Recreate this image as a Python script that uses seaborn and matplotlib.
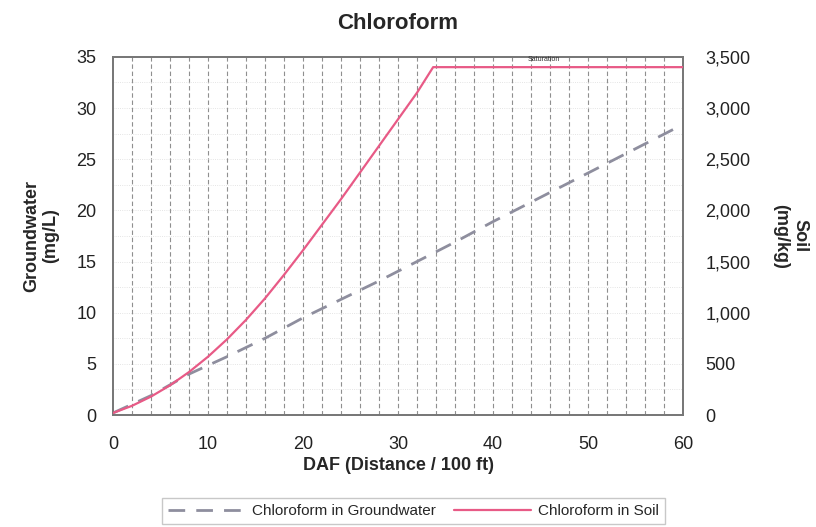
import numpy as np
import pandas as pd
import matplotlib
matplotlib.use("Agg")
import matplotlib.pyplot as plt
import seaborn as sns
from matplotlib.ticker import FuncFormatter, MultipleLocator
from matplotlib.lines import Line2D

# Values
gw_daf = [0, 4, 8, 12, 16, 20, 24, 28, 32, 36, 40, 44, 48, 52, 56, 60]
gw_conc = [0.2, 1.9, 4.0, 5.7, 7.5, 9.5, 11.3, 13.1, 15.0, 16.9, 18.9, 20.8, 22.7, 24.6, 26.5, 28.4]

soil_daf = [0, 2, 4, 6, 8, 10, 12, 14, 16, 18, 20, 22, 24, 26, 28, 30, 32, 33.7, 60]
soil_conc = [20, 90, 180, 290, 420, 570, 740, 930, 1140, 1370, 1610, 1860, 2110, 2370,
             2630, 2890, 3150, 3400, 3400]

gw_df = pd.DataFrame({"DAF": gw_daf, "conc": gw_conc})
soil_df = pd.DataFrame({"DAF": soil_daf, "conc": soil_conc})

sns.set_style("white")
plt.rcParams["font.family"] = ["Liberation Sans", "DejaVu Sans"]

gw_color = "#8e8e9e"
soil_color = "#e85a86"

fig = plt.figure(figsize=(8.16, 5.27), dpi=100)
ax = fig.add_axes([0.1385, 0.2125, 0.6985, 0.6795])
ax2 = ax.twinx()

# grid
for x in np.arange(2, 60, 2):
    ax.axvline(x, color="#8f8f8f", lw=0.8, ls=(0, (4, 2.5)), zorder=0)
for y in np.arange(2.5, 35, 2.5):
    ax.axhline(y, color="#dcdcdc", lw=0.6, ls=":", zorder=0)

sns.lineplot(data=gw_df, x="DAF", y="conc", ax=ax, color=gw_color, lw=2.0,
             dashes=False, zorder=3)
ax.lines[-1].set_dashes((6, 4))
sns.lineplot(data=soil_df, x="DAF", y="conc", ax=ax2, color=soil_color, lw=1.6, zorder=3)

ax.set_xlim(0, 60)
ax.set_ylim(0, 35)
ax2.set_ylim(0, 3500)
ax.xaxis.set_major_locator(MultipleLocator(10))
ax.yaxis.set_major_locator(MultipleLocator(5))
ax2.yaxis.set_major_locator(MultipleLocator(500))
ax2.yaxis.set_major_formatter(FuncFormatter(lambda v, p: f"{int(v):,}"))

ax2.text(45.3, 3440, "Saturation", fontsize=5, ha="center", va="bottom", color="#333333")

ax.tick_params(axis="x", length=0, labelsize=13, colors="#222222", pad=15)
ax.tick_params(axis="y", length=0, labelsize=13, colors="#222222", pad=12)
ax2.tick_params(axis="y", length=0, labelsize=13, colors="#222222", pad=16)

ax.set_xlabel("DAF (Distance / 100 ft)", fontsize=13, fontweight="bold", labelpad=3)
ax.set_ylabel("Groundwater\n(mg/L)", fontsize=13, fontweight="bold", labelpad=12)
ax2.set_ylabel("Soil\n(mg/kg)", fontsize=13, fontweight="bold", rotation=270, labelpad=42)
ax.set_title("Chloroform", fontsize=16, fontweight="bold", pad=20)

for a in (ax, ax2):
    for s in a.spines.values():
        s.set_color("#777777")
        s.set_linewidth(1.3)

handles = [Line2D([], [], color=gw_color, lw=2.0, dashes=(6, 4)),
           Line2D([], [], color=soil_color, lw=1.6)]
fig.legend(handles, ["Chloroform in Groundwater", "Chloroform in Soil"],
           loc="center", bbox_to_anchor=(0.507, 0.03), ncol=2, fontsize=11,
           frameon=True, fancybox=False, edgecolor="#bbbbbb", handlelength=5,
           handletextpad=0.5, columnspacing=1.2, borderpad=0.4)

fig.savefig("out.png", dpi=100)
